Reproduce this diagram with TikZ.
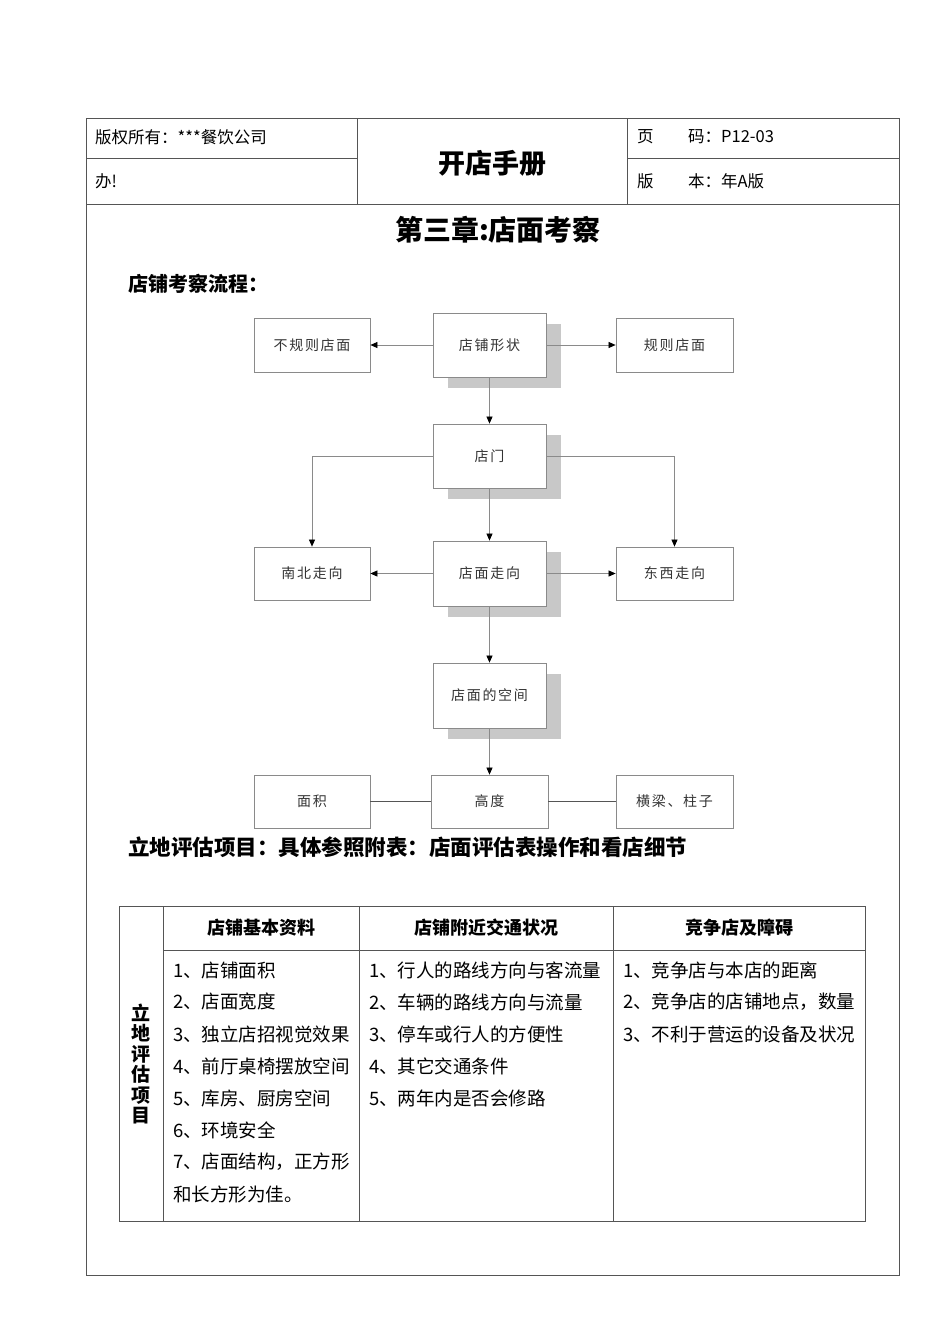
\documentclass[tikz,border=0pt]{standalone}
\usepackage{fontspec}
\setmainfont{Noto Sans CJK SC}
\usetikzlibrary{arrows.meta,shadows}
\definecolor{framec}{HTML}{555555}
\definecolor{linec}{HTML}{8A8A8A}
\definecolor{shadowc}{HTML}{C8C8C8}
\definecolor{boxtext}{HTML}{333333}
\tikzset{
  fbox/.style={draw=linec, line width=0.8pt, fill=white, text=boxtext, font=\fontsize{14}{16}\selectfont, inner sep=0pt},
  sbox/.style={fbox, drop shadow={shadow xshift=15pt, shadow yshift=-11pt, fill=shadowc, opacity=1}},
  conn/.style={draw=linec, line width=0.7pt, -{Triangle[black,length=7pt,width=6pt]}},
  plain/.style={draw=framec, line width=0.8pt},
  frame/.style={draw=framec, line width=0.9pt},
  hdr/.style={anchor=west, font=\fontsize{16.5}{19}\selectfont, inner sep=0pt},
  body/.style={anchor=west, font=\fontsize{18.5}{22}\selectfont, inner sep=0pt},
  thead/.style={font=\fontsize{18}{21}\selectfont\bfseries, inner sep=0pt}
}
\newcommand{\boxtxt}[1]{\addfontfeatures{LetterSpace=12}#1}
\begin{document}
\begin{tikzpicture}[x=1pt,y=-1pt]
\useasboundingbox (0,0) rectangle (950,1344);
\fill[white] (0,0) rectangle (950,1344);
% page frame
\draw[frame] (86,118) rectangle (899,1275);
\draw[frame] (86,204) -- (899,204);
\draw[frame] (357,118) -- (357,204);
\draw[frame] (627,118) -- (627,204);
\draw[frame] (86,158) -- (357,158);
\draw[frame] (627,158) -- (899,158);
\node[hdr] (h1) at (95,137) {版权所有：***餐饮公司};
\node[hdr] (h2) at (95,181) {办!};
\node[font=\fontsize{27}{30}\selectfont\bfseries, inner sep=0pt] (htitle) at (492,163) {开店手册};
\node[hdr] (h3a) at (637,137) {页};
\node[hdr] (h3b) at (688,137) {码：P12-03};
\node[hdr] (h4a) at (637,181) {版};
\node[hdr] (h4b) at (688,181) {本：年A版};
% titles
\node[font=\fontsize{28}{31}\selectfont\bfseries, inner sep=0pt] (chap) at (498,230) {第三章:店面考察};
\node[anchor=west, font=\fontsize{20}{24}\selectfont\bfseries, inner sep=0pt] (flowtitle) at (128,284) {店铺考察流程：};
% flowchart
\node[fbox, minimum width=116pt, minimum height=54pt] (irr) at (312,345) {\boxtxt{不规则店面}};
\node[sbox, minimum width=113pt, minimum height=64pt] (shape) at (489.5,345) {\boxtxt{店铺形状}};
\node[fbox, minimum width=117pt, minimum height=54pt] (reg) at (674.5,345) {\boxtxt{规则店面}};
\node[sbox, minimum width=113pt, minimum height=64pt] (door) at (489.5,456) {\boxtxt{店门}};
\node[fbox, minimum width=116pt, minimum height=53pt] (ns) at (312,573.5) {\boxtxt{南北走向}};
\node[sbox, minimum width=113pt, minimum height=65pt] (dir) at (489.5,573.5) {\boxtxt{店面走向}};
\node[fbox, minimum width=117pt, minimum height=53pt] (ew) at (674.5,573.5) {\boxtxt{东西走向}};
\node[sbox, minimum width=113pt, minimum height=65pt] (space) at (489.5,695.5) {\boxtxt{店面的空间}};
\node[fbox, minimum width=116pt, minimum height=53pt] (area) at (312,801.5) {\boxtxt{面积}};
\node[fbox, minimum width=117pt, minimum height=53pt] (height) at (489.5,801.5) {\boxtxt{高度}};
\node[fbox, minimum width=117pt, minimum height=53pt] (beam) at (674.5,801.5) {\boxtxt{横梁、柱子}};
\draw[conn] (shape.west) -- (irr.east);
\draw[conn] (shape.east) -- (reg.west);
\draw[conn] (shape.south) -- (door.north);
\draw[conn] (door.west) -| (ns.north);
\draw[conn] (door.east) -| (ew.north);
\draw[conn] (door.south) -- (dir.north);
\draw[conn] (dir.west) -- (ns.east);
\draw[conn] (dir.east) -- (ew.west);
\draw[conn] (dir.south) -- (space.north);
\draw[conn] (space.south) -- (height.north);
\draw[plain] (height.west) -- (area.east);
\draw[plain] (height.east) -- (beam.west);
% evaluation title
\node[anchor=west, font=\fontsize{21.5}{26}\selectfont\bfseries, inner sep=0pt] (evaltitle) at (128,847) {立地评估项目：具体参照附表：店面评估表操作和看店细节};
% table
\draw[frame] (119,906) rectangle (865,1221);
\draw[frame] (163,906) -- (163,1221);
\draw[frame] (359,906) -- (359,1221);
\draw[frame] (613,906) -- (613,1221);
\draw[frame] (163,950) -- (865,950);
\node[thead, align=center, font=\fontsize{19}{20.5}\selectfont\bfseries] (vert) at (141,1064) {立\\地\\评\\估\\项\\目};
\node[thead] (c1) at (261,928) {店铺基本资料};
\node[thead] (c2) at (486,928) {店铺附近交通状况};
\node[thead] (c3) at (739,928) {竞争店及障碍};
\node[body] (a1) at (173,970) {1、店铺面积};
\node[body] (a2) at (173,1002) {2、店面宽度};
\node[body] (a3) at (173,1034) {3、独立店招视觉效果};
\node[body] (a4) at (173,1066) {4、前厅桌椅摆放空间};
\node[body] (a5) at (173,1098) {5、库房、厨房空间};
\node[body] (a6) at (173,1130) {6、环境安全};
\node[body] (a7) at (173,1162) {7、店面结构，正方形};
\node[body] (a8) at (173,1194) {和长方形为佳。};
\node[body] (b1) at (369,970) {1、行人的路线方向与客流量};
\node[body] (b2) at (369,1002) {2、车辆的路线方向与流量};
\node[body] (b3) at (369,1034) {3、停车或行人的方便性};
\node[body] (b4) at (369,1066) {4、其它交通条件};
\node[body] (b5) at (369,1098) {5、两年内是否会修路};
\node[body] (d1) at (623,970) {1、竞争店与本店的距离};
\node[body] (d2) at (623,1002) {2、竞争店的店铺地点，数量};
\node[body] (d3) at (623,1034) {3、不利于营运的设备及状况};
\end{tikzpicture}
\end{document}
